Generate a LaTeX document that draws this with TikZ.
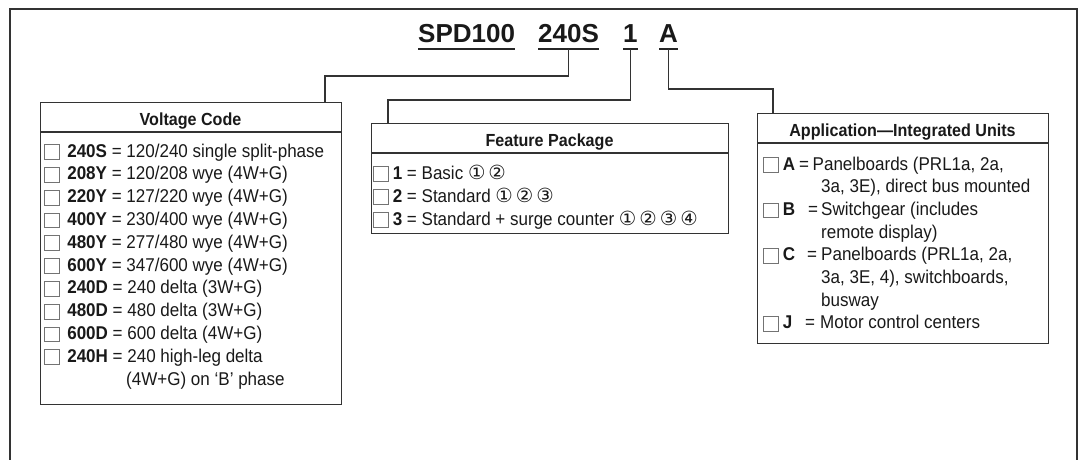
\documentclass[tikz,border=0pt]{standalone}
\usepackage{fontspec}
\setmainfont[FakeStretch=0.92]{Liberation Sans}
\newfontfamily\plainfont{Liberation Sans}
\newfontfamily\symfont{DejaVu Sans}
\usetikzlibrary{calc}
\newcommand\cbx{\raisebox{-2pt}{\textcolor{black!55}{\fboxsep=0pt\fboxrule=0.8pt\fbox{\rule{0pt}{14pt}\rule{14pt}{0pt}}}}}
\newcommand\circd[1]{{\symfont\fontsize{19.5}{19.5}\selectfont #1}}
\newcommand\cg{\hspace{3pt}}
\tikzset{
  row/.style={anchor=base west, inner sep=0pt, font=\fontsize{18.5}{20}\selectfont, text=black!90},
  head/.style={anchor=base, inner sep=0pt, font=\bfseries\fontsize{17.5}{20}\selectfont, text=black!90},
  ttl/.style={anchor=base west, inner sep=0pt, font=\plainfont\bfseries\fontsize{26}{30}\selectfont, text=black!90},
  boxframe/.style={draw=black!80, line width=1.3pt, inner sep=0pt, anchor=north west},
  conn/.style={draw=black!80, line width=1.3pt},
  uline/.style={draw=black!85, line width=2pt},
  frame/.style={draw=black!80, line width=1.8pt}
}
\begin{document}
\begin{tikzpicture}[x=1pt, y=-1pt]
\useasboundingbox (0,0) rectangle (1082,460);
% outer frame (open at bottom)
\draw[frame] (10,460) -- (10,9) -- (1077,9) -- (1077,460);

% title
\node[ttl] (t1) at (418,43) {SPD100};
\node[ttl] (t2) at (538,43) {240S};
\node[ttl] (t3) at (623,43) {1};
\node[ttl] (t4) at (659,43) {A};
\foreach \t in {t1,t2,t3,t4}
  \draw[uline] ([yshift=-6pt]\t.base west) -- ([yshift=-6pt]\t.base east);

% boxes
\node[boxframe, minimum width=301pt, minimum height=302pt] (vbox) at (40,102) {};
\node[boxframe, minimum width=357pt, minimum height=110pt] (fbox) at (371,123) {};
\node[boxframe, minimum width=291pt, minimum height=230pt] (abox) at (757,113) {};
\coordinate (vs) at (0,132);
\coordinate (fs) at (0,153);
\coordinate (as) at (0,143);
\draw[conn] (vbox.west |- vs) -- (vbox.east |- vs);
\draw[conn] (fbox.west |- fs) -- (fbox.east |- fs);
\draw[conn] (abox.west |- as) -- (abox.east |- as);

% connectors
\coordinate (k1) at (325,76);
\coordinate (k2) at (388,100);
\coordinate (k3) at (773,89);
\draw[conn] ([yshift=-6pt]t2.base) |- (k1) -- (k1 |- vbox.north);
\draw[conn] ([yshift=-6pt]t3.base) |- (k2) -- (k2 |- fbox.north);
\draw[conn] ([yshift=-6pt]t4.base) |- (k3) -- (k3 |- abox.north);

% headers
\node[head] (vh) at (190.5,125) {Voltage Code};
\node[head] (fh) at (549.5,146) {Feature Package};
\node[head] (ah) at (902.5,136) {Application---Integrated Units};

% voltage rows
\node[row] (v1) at (44,157) {\cbx\hspace{7.5pt}\textbf{240S} = 120/240 single split-phase};
\node[row] (v2) at (44,179.8) {\cbx\hspace{7.5pt}\textbf{208Y} = 120/208 wye (4W+G)};
\node[row] (v3) at (44,202.6) {\cbx\hspace{7.5pt}\textbf{220Y} = 127/220 wye (4W+G)};
\node[row] (v4) at (44,225.4) {\cbx\hspace{7.5pt}\textbf{400Y} = 230/400 wye (4W+G)};
\node[row] (v5) at (44,248.2) {\cbx\hspace{7.5pt}\textbf{480Y} = 277/480 wye (4W+G)};
\node[row] (v6) at (44,271) {\cbx\hspace{7.5pt}\textbf{600Y} = 347/600 wye (4W+G)};
\node[row] (v7) at (44,293.8) {\cbx\hspace{7.5pt}\textbf{240D} = 240 delta (3W+G)};
\node[row] (v8) at (44,316.6) {\cbx\hspace{7.5pt}\textbf{480D} = 480 delta (3W+G)};
\node[row] (v9) at (44,339.4) {\cbx\hspace{7.5pt}\textbf{600D} = 600 delta (4W+G)};
\node[row] (v10) at (44,362.2) {\cbx\hspace{7.5pt}\textbf{240H} = 240 high-leg delta};
\node[row] (v11) at (126,385) {(4W+G) on ‘B’ phase};

% feature rows
\node[row] (f1) at (373,179) {\cbx\hspace{4pt}\textbf{1} = Basic \circd{①}\cg\circd{②}};
\node[row] (f2) at (373,202) {\cbx\hspace{4pt}\textbf{2} = Standard \circd{①}\cg\circd{②}\cg\circd{③}};
\node[row] (f3) at (373,225) {\cbx\hspace{4pt}\textbf{3} = Standard + surge counter \circd{①}\cg\circd{②}\cg\circd{③}\cg\circd{④}};

% application rows
\node[row] (a1) at (763,170) {\cbx\hspace{4pt}\textbf{A}};
\node[row] (a1e) at (799,170) {=};
\node[row] (a1d) at (812.5,170) {Panelboards (PRL1a, 2a,};
\node[row] (a2d) at (821,192.7) {3a, 3E), direct bus mounted};
\node[row] (a3) at (763,215.4) {\cbx\hspace{4pt}\textbf{B}};
\node[row] (a3e) at (808,215.4) {=};
\node[row] (a3d) at (821,215.4) {Switchgear (includes};
\node[row] (a4d) at (821,238.1) {remote display)};
\node[row] (a5) at (763,260.8) {\cbx\hspace{4pt}\textbf{C}};
\node[row] (a5e) at (807,260.8) {=};
\node[row] (a5d) at (821,260.8) {Panelboards (PRL1a, 2a,};
\node[row] (a6d) at (821,283.5) {3a, 3E, 4), switchboards,};
\node[row] (a7d) at (821,306.2) {busway};
\node[row] (a8) at (763,328.9) {\cbx\hspace{4pt}\textbf{J}};
\node[row] (a8e) at (805,328.9) {=};
\node[row] (a8d) at (820,328.9) {Motor control centers};
\end{tikzpicture}
\end{document}
